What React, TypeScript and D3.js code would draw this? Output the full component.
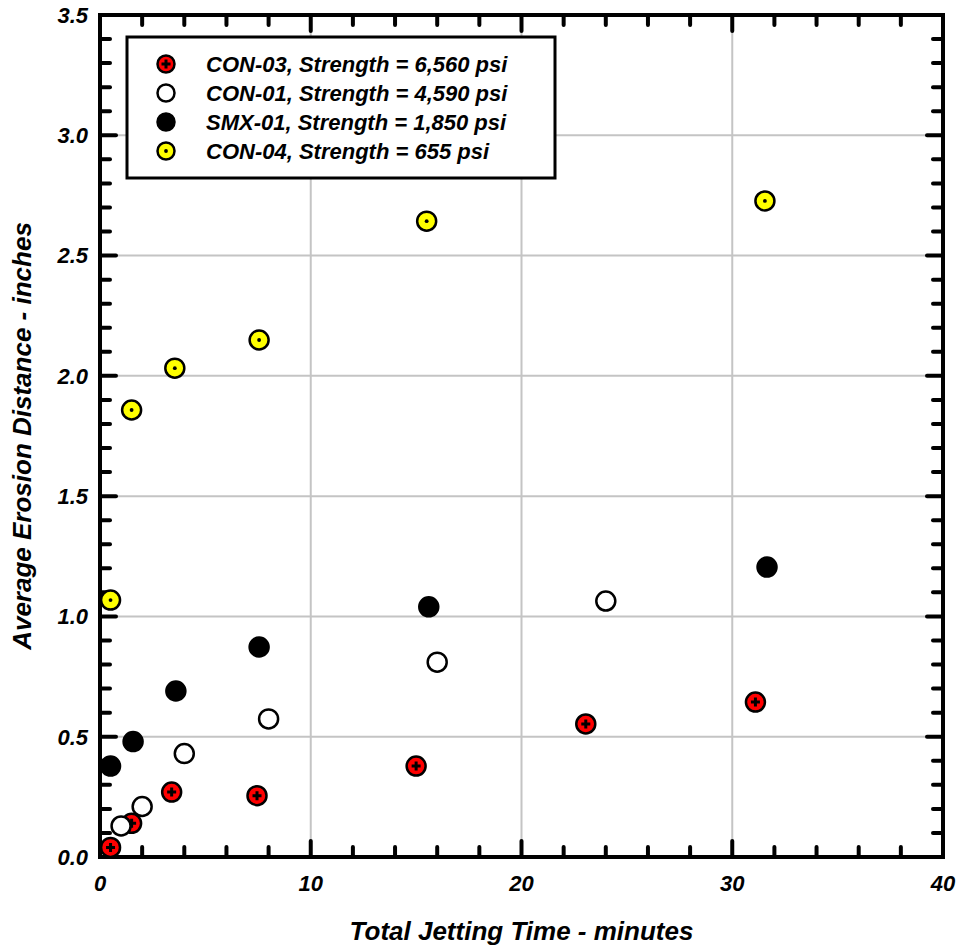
import React from "react";
import * as d3 from "d3";

// ---------- Data ----------
const con03X = [0.5, 1.5, 3.4, 7.45, 15.0, 23.05, 31.1];
const con03Y = [0.04, 0.14, 0.27, 0.255, 0.378, 0.553, 0.644];

const con01X = [1.0, 2.0, 4.0, 8.0, 16.0, 24.0];
const con01Y = [0.129, 0.21, 0.43, 0.574, 0.81, 1.064];

const smx01X = [0.5, 1.57, 3.6, 7.55, 15.6, 31.65];
const smx01Y = [0.378, 0.48, 0.69, 0.873, 1.04, 1.205];

const con04X = [0.5, 1.5, 3.55, 7.55, 15.5, 31.55];
const con04Y = [1.068, 1.858, 2.032, 2.149, 2.643, 2.727];

const legendLabels = [
  "CON-03, Strength = 6,560 psi",
  "CON-01, Strength = 4,590 psi",
  "SMX-01, Strength = 1,850 psi",
  "CON-04, Strength = 655 psi",
];
const markerKinds = ["cross", "open", "solid", "dot"];

const xTicks = [0, 10, 20, 30, 40];
const yTicks = [0, 0.5, 1.0, 1.5, 2.0, 2.5, 3.0, 3.5];

type Kind = "cross" | "open" | "solid" | "dot";

const FONT = "'Liberation Sans', Arial, sans-serif";

const Marker: React.FC<{ cx: number; cy: number; kind: string; r?: number }> = ({
  cx,
  cy,
  kind,
  r = 9,
}) => {
  const fill =
    kind === "cross" ? "#ff0000" : kind === "solid" ? "#000" : kind === "dot" ? "#ffff00" : "#fff";
  return (
    <g transform={`translate(${cx},${cy})`}>
      <circle r={r} fill={fill} stroke="#000" strokeWidth={2.5} />
      {kind === "cross" && (
        <path d="M-4.5,0H4.5M0,-4.5V4.5" stroke="#000" strokeWidth={3} />
      )}
      {kind === "dot" && <circle r={1.9} fill="#000" />}
    </g>
  );
};

export default function App() {
  const width = 959;
  const height = 949;
  const left = 100;
  const right = 943;
  const top = 15;
  const bottom = 857;

  const x = d3.scaleLinear().domain([0, 40]).range([left, right]);
  const y = d3.scaleLinear().domain([0, 3.5]).range([bottom, top]);

  const xMinor = d3.range(0, 40.001, 2);
  const yMinor = d3.range(0, 3.5001, 0.1);

  const series: { xs: number[]; ys: number[]; kind: Kind }[] = [
    { xs: con04X, ys: con04Y, kind: "dot" },
    { xs: smx01X, ys: smx01Y, kind: "solid" },
    { xs: con03X, ys: con03Y, kind: "cross" },
    { xs: con01X, ys: con01Y, kind: "open" },
  ];

  const isMajorX = (v: number) => Math.abs(v / 10 - Math.round(v / 10)) < 1e-6;
  const isMajorY = (v: number) => Math.abs(v / 0.5 - Math.round(v / 0.5)) < 1e-6;

  const tickStyle = { stroke: "#000", strokeWidth: 4, strokeLinecap: "round" as const };

  return (
    <svg
      width={width}
      height={height}
      style={{ position: "absolute", left: 0, top: 0, fontFamily: FONT }}
    >
      <rect width={width} height={height} fill="#fff" />

      {/* grid */}
      {xTicks.slice(1, -1).map((t) => (
        <line key={"gx" + t} x1={x(t)} x2={x(t)} y1={top} y2={bottom} stroke="#c4c4c4" strokeWidth={2} />
      ))}
      {yTicks.slice(1, -1).map((t) => (
        <line key={"gy" + t} x1={left} x2={right} y1={y(t)} y2={y(t)} stroke="#c4c4c4" strokeWidth={2} />
      ))}

      {/* ticks */}
      {xMinor.map((t) => {
        const len = isMajorX(t) ? 16 : 10;
        return (
          <g key={"tx" + t}>
            <line x1={x(t)} x2={x(t)} y1={bottom} y2={bottom - len} {...tickStyle} />
            <line x1={x(t)} x2={x(t)} y1={top} y2={top + len} {...tickStyle} />
          </g>
        );
      })}
      {yMinor.map((t) => {
        const len = isMajorY(t) ? 16 : 10;
        return (
          <g key={"ty" + t}>
            <line x1={left} x2={left + len} y1={y(t)} y2={y(t)} {...tickStyle} />
            <line x1={right} x2={right - len} y1={y(t)} y2={y(t)} {...tickStyle} />
          </g>
        );
      })}

      {/* frame */}
      <rect
        x={left}
        y={top}
        width={right - left}
        height={bottom - top}
        fill="none"
        stroke="#000"
        strokeWidth={4}
      />

      {/* legend */}
      <rect x={127} y={37} width={428} height={141} fill="#fff" stroke="#000" strokeWidth={3} />
      {legendLabels.map((lab, i) => (
        <g key={lab}>
          <Marker cx={166} cy={64 + i * 29} kind={markerKinds[i]} r={8.5} />
          <text
            x={206}
            y={64 + i * 29}
            dy="0.36em"
            fontSize={22}
            fontWeight="bold"
            fontStyle="italic"
          >
            {lab}
          </text>
        </g>
      ))}

      {/* data */}
      {series.map((s) =>
        s.xs.map((xv, i) => (
          <Marker key={s.kind + i} cx={x(xv)} cy={y(s.ys[i])} kind={s.kind} r={9.5} />
        ))
      )}

      {/* tick labels */}
      {xTicks.map((t) => (
        <text
          key={"lx" + t}
          x={x(t)}
          y={891}
          textAnchor="middle"
          fontSize={22}
          fontWeight="bold"
          fontStyle="italic"
        >
          {t}
        </text>
      ))}
      {yTicks.map((t) => (
        <text
          key={"ly" + t}
          x={88}
          y={y(t)}
          dy="0.36em"
          textAnchor="end"
          fontSize={22}
          fontWeight="bold"
          fontStyle="italic"
        >
          {t.toFixed(1)}
        </text>
      ))}

      {/* axis titles */}
      <text
        x={(left + right) / 2}
        y={940}
        textAnchor="middle"
        fontSize={26}
        fontWeight="bold"
        fontStyle="italic"
      >
        Total Jetting Time - minutes
      </text>
      <text
        transform={`translate(31,${(top + bottom) / 2}) rotate(-90)`}
        textAnchor="middle"
        fontSize={26}
        fontWeight="bold"
        fontStyle="italic"
      >
        Average Erosion Distance - inches
      </text>
    </svg>
  );
}
